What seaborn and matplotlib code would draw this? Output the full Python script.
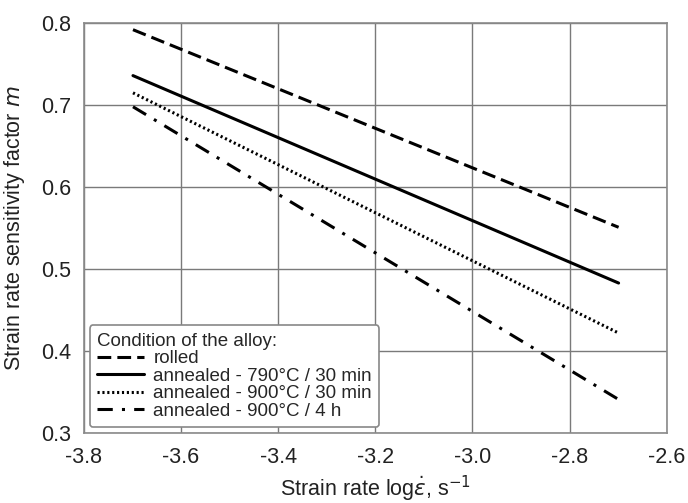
import matplotlib
matplotlib.use("Agg")
import matplotlib.pyplot as plt
import seaborn as sns
import pandas as pd

# strain rate 2e-4 .. 2e-3 1/s
log_rate = [-3.699, -2.699]
conditions = ["rolled",
              "annealed - 790°C / 30 min",
              "annealed - 900°C / 30 min",
              "annealed - 900°C / 4 h"]
m_rolled = [0.792, 0.551]
m_790_30 = [0.736, 0.483]
m_900_30 = [0.715, 0.422]
m_900_4h = [0.698, 0.341]

rows = []
for cond, vals in zip(conditions, [m_rolled, m_790_30, m_900_30, m_900_4h]):
    for x, y in zip(log_rate, vals):
        rows.append({"x": x, "m": y, "cond": cond})
df = pd.DataFrame(rows)

sns.set_style("white")
plt.rcParams["font.family"] = ["Liberation Sans", "DejaVu Sans"]
plt.rcParams["axes.unicode_minus"] = False

fig = plt.figure(figsize=(6.88, 5.03), dpi=100)
ax = fig.add_axes([0.122, 0.139, 0.847, 0.815])

dashes = {conditions[0]: (4.5, 2),
          conditions[1]: "",
          conditions[2]: (0.7, 0.9),
          conditions[3]: (5, 3, 1, 3)}
sns.lineplot(data=df, x="x", y="m", hue="cond", style="cond",
             palette=["black"] * 4, dashes=dashes, linewidth=2.2, ax=ax)

ax.set_xlim(-3.8, -2.6)
ax.set_ylim(0.3, 0.8)
ax.set_xticks([-3.8, -3.6, -3.4, -3.2, -3.0, -2.8, -2.6])
ax.set_yticks([0.3, 0.4, 0.5, 0.6, 0.7, 0.8])
ax.grid(True, color="#7a7a7a", linewidth=1)
for s in ax.spines.values():
    s.set_color("#8a8a8a")
    s.set_linewidth(1.2)
ax.tick_params(length=0, labelsize=15.5, colors="#222222")
ax.tick_params(axis="x", pad=10)
ax.tick_params(axis="y", pad=9)

ax.set_xlabel(r"Strain rate log$\dot{\varepsilon}$, s$^{-1}$", fontsize=15.5, color="#222222", labelpad=4)
ax.set_ylabel(r"Strain rate sensitivity factor $m$", fontsize=15.5, color="#222222", labelpad=10)

handles, labels = ax.get_legend_handles_labels()
leg = ax.legend(handles, labels, title="Condition of the alloy:", loc="lower left",
                fontsize=13.5, title_fontsize=13.5, handlelength=2.5, handletextpad=0.5,
                labelspacing=0.02, borderaxespad=0.3, borderpad=0.4, frameon=True, fancybox=True,
                framealpha=1, edgecolor="#888888", alignment="left")
leg.get_frame().set_linewidth(1.2)

plt.savefig("out.png", dpi=100)
